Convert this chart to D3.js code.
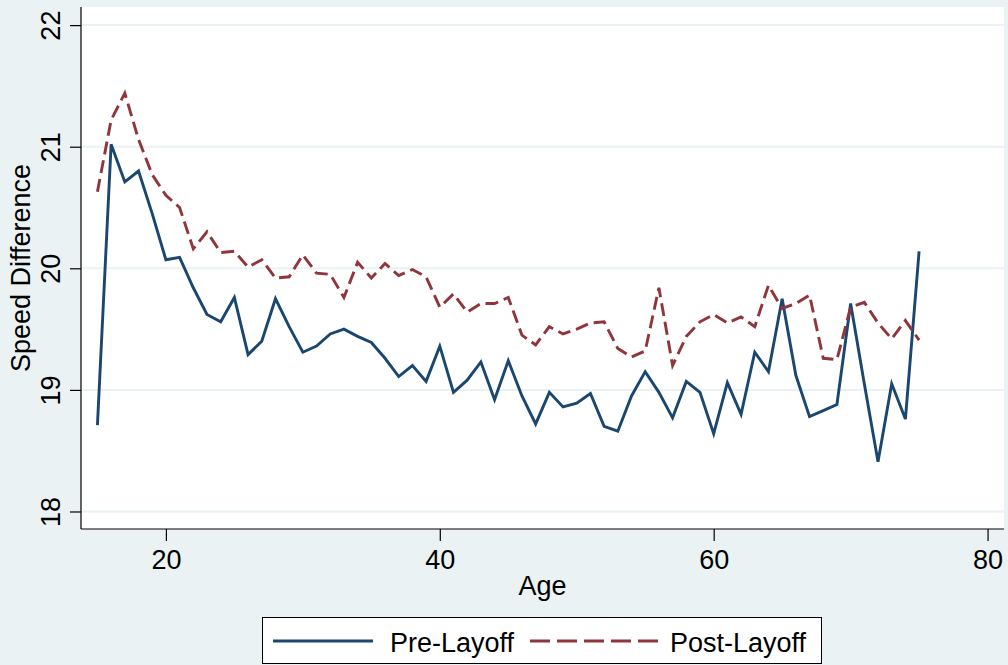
<!DOCTYPE html>
<html>
<head>
<meta charset="utf-8">
<script src="https://cdn.jsdelivr.net/npm/d3@7"></script>
<style>
  html, body { margin: 0; padding: 0; background: #eaf2f3; }
  svg { display: block; }
  text { font-family: "Liberation Sans", Arial, sans-serif; fill: #000; }
</style>
</head>
<body>
<svg id="chart" width="1008" height="665"></svg>
<script>
// Ages observed in both groups
const ages = d3.range(15, 76);

// Mean speed difference by age, before the layoff
const preLayoff = [
  18.71, 21.02, 20.71, 20.80, 20.45, 20.07, 20.09, 19.84, 19.62, 19.56,
  19.76, 19.29, 19.40, 19.75, 19.52, 19.31, 19.36, 19.46, 19.50, 19.44,
  19.39, 19.26, 19.11, 19.20, 19.07, 19.36, 18.98, 19.08, 19.23, 18.92,
  19.24, 18.95, 18.72, 18.98, 18.86, 18.89, 18.97, 18.70, 18.66, 18.95,
  19.15, 18.98, 18.77, 19.07, 18.98, 18.64, 19.06, 18.80, 19.31, 19.15,
  19.75, 19.12, 18.78, 18.83, 18.88, 19.71, 19.05, 18.41, 19.05, 18.76,
  20.14
];

// Mean speed difference by age, after the layoff
const postLayoff = [
  20.63, 21.22, 21.44, 21.06, 20.77, 20.60, 20.50, 20.16, 20.30, 20.13,
  20.14, 20.01, 20.07, 19.92, 19.93, 20.11, 19.96, 19.95, 19.76, 20.05,
  19.92, 20.04, 19.94, 19.99, 19.93, 19.68, 19.79, 19.64, 19.71, 19.71,
  19.76, 19.45, 19.37, 19.52, 19.46, 19.50, 19.55, 19.56, 19.34, 19.27,
  19.32, 19.84, 19.20, 19.44, 19.56, 19.62, 19.55, 19.60, 19.52, 19.86,
  19.67, 19.71, 19.78, 19.26, 19.25, 19.68, 19.72, 19.55, 19.42, 19.57,
  19.41
];

const xTicks = [20, 40, 60, 80];
const yTicks = [18, 19, 20, 21, 22];

const seriesNames = ["Pre-Layoff", "Post-Layoff"];
const seriesColors = ["#1a476f", "#90353b"];
const seriesDash = [null, "13,6"];
const legendDash = [null, "20,7"];

const fontSize = 27;

const svg = d3.select("#chart");

// plot region
const plot = { left: 81, top: 7, right: 1004, bottom: 529 };

const x = d3.scaleLinear().domain([13.8, 81.2]).range([plot.left, plot.right]);
const y = d3.scaleLinear().domain([17.856, 22.149]).range([plot.bottom, plot.top]);

svg.append("rect")
  .attr("x", plot.left).attr("y", plot.top)
  .attr("width", plot.right - plot.left).attr("height", plot.bottom - plot.top)
  .attr("fill", "#ffffff");

// horizontal gridlines
svg.append("g")
  .selectAll("line")
  .data(yTicks)
  .join("line")
  .attr("x1", plot.left).attr("x2", plot.right)
  .attr("y1", d => y(d)).attr("y2", d => y(d))
  .attr("stroke", "#eaf2f3")
  .attr("stroke-width", 2);

// y axis
const yAxis = svg.append("g")
  .attr("transform", `translate(${plot.left},0)`)
  .call(d3.axisLeft(y).tickValues(yTicks).tickSize(11).tickPadding(6).tickFormat(d3.format("d")));
yAxis.select(".domain").attr("stroke", "#000").attr("stroke-width", 1.2)
  .attr("d", `M0,${plot.top}V${plot.bottom}`);
yAxis.selectAll(".tick line").attr("stroke", "#000").attr("stroke-width", 1.2);
yAxis.selectAll(".tick text")
  .attr("font-size", fontSize)
  .attr("text-anchor", "middle")
  .attr("dy", null)
  .attr("x", null)
  .attr("transform", "translate(-30,0) rotate(-90)")
  .attr("dominant-baseline", "central");

// x axis
const xAxis = svg.append("g")
  .attr("transform", `translate(0,${plot.bottom})`)
  .call(d3.axisBottom(x).tickValues(xTicks).tickSize(12).tickPadding(9).tickFormat(d3.format("d")));
xAxis.select(".domain").attr("stroke", "#000").attr("stroke-width", 1.2)
  .attr("d", `M${plot.left},0H${plot.right}`);
xAxis.selectAll(".tick line").attr("stroke", "#000").attr("stroke-width", 1.2);
xAxis.selectAll(".tick text").attr("font-size", fontSize);

// axis titles
svg.append("text")
  .attr("x", (plot.left + plot.right) / 2).attr("y", 595)
  .attr("text-anchor", "middle")
  .attr("font-size", fontSize)
  .text("Age");

svg.append("text")
  .attr("transform", `translate(21,${(plot.top + plot.bottom) / 2}) rotate(-90)`)
  .attr("text-anchor", "middle")
  .attr("dominant-baseline", "central")
  .attr("font-size", fontSize)
  .text("Speed Difference");

// series lines
const series = [preLayoff, postLayoff];
const line = d3.line()
  .x((d, i) => x(ages[i]))
  .y(d => y(d));

series.forEach((vals, k) => {
  svg.append("path")
    .datum(vals)
    .attr("fill", "none")
    .attr("stroke", seriesColors[k])
    .attr("stroke-width", 2.9)
    .attr("stroke-linejoin", "miter")
    .attr("stroke-dasharray", seriesDash[k])
    .attr("d", line);
});

// legend
const legend = svg.append("g");
legend.append("rect")
  .attr("x", 262.5).attr("y", 617.5)
  .attr("width", 559).attr("height", 46)
  .attr("fill", "#ffffff")
  .attr("stroke", "#000")
  .attr("stroke-width", 1);

const legendItems = [
  { x1: 273, x2: 373, tx: 390 },
  { x1: 530, x2: 658, tx: 670 }
];
legendItems.forEach((it, k) => {
  legend.append("line")
    .attr("x1", it.x1).attr("x2", it.x2)
    .attr("y1", 641).attr("y2", 641)
    .attr("stroke", seriesColors[k])
    .attr("stroke-width", 2.9)
    .attr("stroke-dasharray", legendDash[k]);
  legend.append("text")
    .attr("x", it.tx).attr("y", 652)
    .attr("font-size", fontSize)
    .text(seriesNames[k]);
});
</script>
</body>
</html>
